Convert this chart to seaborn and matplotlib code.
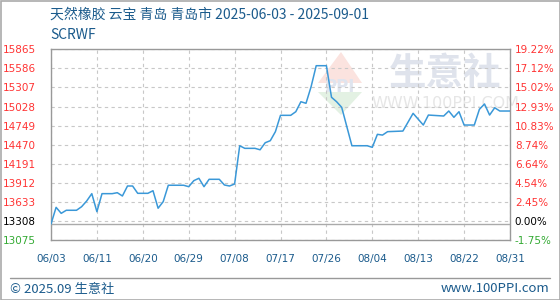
import numpy as np
import pandas as pd
import matplotlib
matplotlib.use("Agg")
import matplotlib.pyplot as plt
import seaborn as sns
from matplotlib.lines import Line2D
from matplotlib.patches import Rectangle, Polygon

# ---------------- data ----------------
start_date = "2025-06-03"
day_offsets = [0, 1, 2, 3, 5, 6, 7, 8, 9, 10, 12, 13, 14, 15, 16, 17, 19, 20, 21, 22,
               23, 26, 27, 28, 29, 30, 31, 33, 34, 35, 36, 37, 38, 40, 41, 42, 43, 44,
               45, 47, 48, 49, 50, 51, 52, 54, 55, 56, 57, 59, 62, 63, 64, 65, 66, 69,
               71, 73, 74, 77, 78, 79, 80, 81, 83, 84, 85, 86, 87, 88, 90]
prices = [13308, 13553, 13465, 13510, 13510, 13562, 13646, 13753, 13489, 13753, 13753,
          13767, 13719, 13865, 13865, 13758, 13758, 13796, 13540, 13636,
          13876, 13876, 13855, 13943, 13978, 13855, 13963, 13963, 13880, 13865, 13894,
          14454, 14416, 14416, 14395, 14498, 14528, 14660,
          14899, 14899, 14952, 15098, 15075, 15318, 15625, 15625, 15163, 15098, 15016,
          14454, 14454, 14431, 14621, 14610, 14660, 14669,
          14928, 14757, 14903, 14889, 14962, 14870, 14952, 14757, 14757, 14987, 15065,
          14903, 15010, 14962, 14962]
base_price = 13308
y_ticks = [13075, 13354, 13633, 13912, 14191, 14470, 14749, 15028, 15307, 15586, 15865]
left_labels = ["13075", "13308", "13633", "13912", "14191", "14470", "14749",
               "15028", "15307", "15586", "15865"]
right_labels = ["-1.75%", "0.00%", "2.45%", "4.54%", "6.64%", "8.74%", "10.83%",
                "12.93%", "15.02%", "17.12%", "19.22%"]
x_labels = ["06/03", "06/11", "06/20", "06/29", "07/08", "07/17", "07/26",
            "08/04", "08/13", "08/22", "08/31"]
title = "天然橡胶 云宝 青岛 青岛市 2025-06-03 - 2025-09-01"
subtitle = "SCRWF"
footer_left = "© 2025.09 生意社"
footer_right = "www.100PPI.com"

dates = pd.to_datetime(start_date) + pd.to_timedelta(day_offsets, unit="D")
df = pd.DataFrame({"date": dates, "price": prices})

# ---------------- style ----------------
sns.set_style("white")
plt.rcParams["font.family"] = ["DejaVu Sans"]
cjk = ["Noto Sans CJK SC", "DejaVu Sans"]

red = "#ff3333"
green = "#33aa33"
blue_text = "#1b5b8c"
line_color = "#3a98d8"
grid_color = "#c8c8c8"

fig = plt.figure(figsize=(5.6, 3.0), dpi=100)
ax = fig.add_axes([51 / 560, 1 - 240 / 300, 459 / 560, 190.7 / 300])
ax.set_zorder(2)

# watermark
fig.text(445 / 560, 1 - 73 / 300, "生意社", family=cjk, fontsize=27, color="#dfe3ec",
         ha="center", va="center", fontweight="bold", zorder=0)
fig.text(445 / 560, 1 - 104 / 300, "WWW.100PPI.COM", fontsize=11.5, color="#e6e6e6",
         ha="center", va="center", zorder=0)
fig.patches.append(Polygon([[318 / 560, 1 - 83 / 300], [341 / 560, 1 - 52 / 300],
                            [362 / 560, 1 - 83 / 300]], closed=True,
                           transform=fig.transFigure, facecolor="#fbe3df",
                           edgecolor="none", zorder=0))
fig.patches.append(Polygon([[318 / 560, 1 - 92 / 300], [341 / 560, 1 - 115 / 300],
                            [362 / 560, 1 - 92 / 300]], closed=True,
                           transform=fig.transFigure, facecolor="#e3f1e3",
                           edgecolor="none", zorder=0))
fig.text(340 / 560, 1 - 87 / 300, "PPI", fontsize=12, color="#dfe4ee",
         ha="center", va="center", fontweight="bold", zorder=0)
ax.set_facecolor("none")

sns.lineplot(data=df, x="date", y="price", ax=ax, color=line_color, linewidth=1.1,
             zorder=5)

x0 = pd.to_datetime(start_date)
x1 = x0 + pd.Timedelta(days=90)
ax.set_xlim(x0, x1)
ax.set_ylim(y_ticks[0], y_ticks[-1])

xt = pd.date_range(x0, x1, periods=len(x_labels))
ax.set_xticks(xt)
ax.set_xticklabels(x_labels, fontsize=7.5, color=blue_text)
ax.set_yticks(y_ticks)
ax.set_yticklabels(left_labels, fontsize=7.5)
ax.tick_params(axis="x", length=0, pad=10)
ax.tick_params(axis="y", length=0, pad=11)
ax.set_xlabel("")
ax.set_ylabel("")
ax.grid(True, linestyle=(0, (3, 3)), color=grid_color, linewidth=0.8)
ax.axhline(base_price, color="#aaaaaa", linewidth=1.0, zorder=3)
for s in ax.spines.values():
    s.set_color("#999999")
    s.set_linewidth(1.0)

def col(i):
    if i == 0:
        return green
    if i == 1:
        return "black"
    return red

for i, t in enumerate(ax.get_yticklabels()):
    t.set_color(col(i))

ax2 = ax.twinx()
ax2.set_zorder(3)
ax2.patch.set_visible(False)
ax2.set_ylim(ax.get_ylim())
ax2.set_yticks(y_ticks)
ax2.set_yticklabels(right_labels, fontsize=7.5)
ax2.tick_params(axis="y", length=0, pad=3.5)
ax2.grid(False)
for s in ax2.spines.values():
    s.set_visible(False)
for i, t in enumerate(ax2.get_yticklabels()):
    t.set_color(col(i))

# titles
fig.text(50 / 560, 1 - 15 / 300, title, family=cjk, fontsize=10, color=blue_text,
         ha="left", va="center")
fig.text(50 / 560, 1 - 35 / 300, subtitle, family=cjk, fontsize=10, color=blue_text,
         ha="left", va="center")

# footer
fig.add_artist(Line2D([10 / 560, 550 / 560], [1 - 278 / 300, 1 - 278 / 300],
                      transform=fig.transFigure, color="#999999", linewidth=1))
fig.text(10 / 560, 1 - 289 / 300, footer_left, family=cjk, fontsize=9.5,
         color=blue_text, ha="left", va="center")
fig.text(549 / 560, 1 - 289 / 300, footer_right, family=cjk, fontsize=9.5,
         color=blue_text, ha="right", va="center")

# outer border
fig.patches.append(Rectangle((0.5 / 560, 0.5 / 300), 559 / 560, 299 / 300,
                             transform=fig.transFigure, fill=False,
                             edgecolor="#aaaaaa", linewidth=1.2, zorder=10))

fig.savefig("out.png", dpi=100)
